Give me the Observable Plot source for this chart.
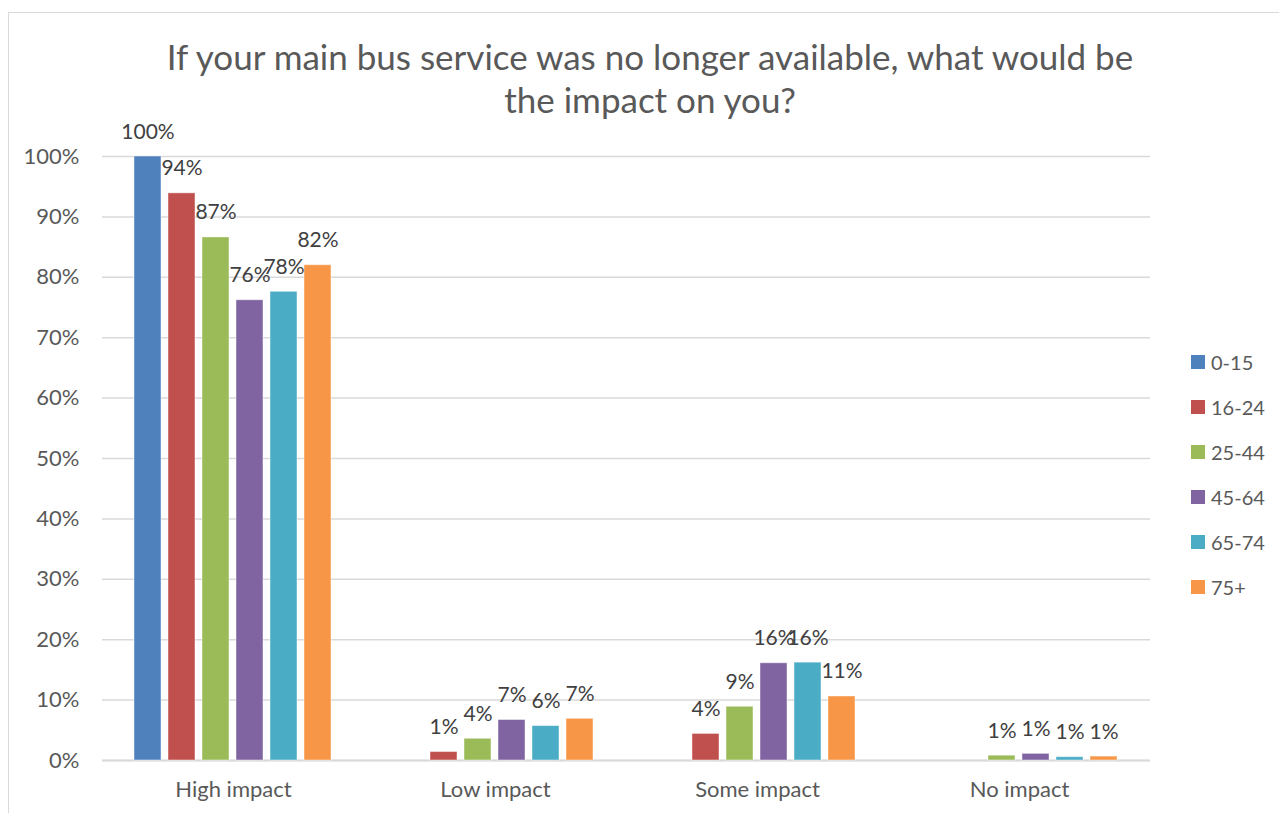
<!DOCTYPE html>
<html>
<head>
<meta charset="utf-8">
<script src="https://cdn.jsdelivr.net/npm/d3@7"></script>
<script src="https://cdn.jsdelivr.net/npm/@observablehq/plot@0.6"></script>
<style>
  html, body { margin: 0; padding: 0; background: #fff; }
  body { width: 1279px; height: 813px; position: relative; overflow: hidden; font-family: Lato, "Open Sans", sans-serif; }
  #frame { position: absolute; left: 8px; top: 12px; width: 1400px; height: 900px; border-left: 1.5px solid #d9d9d9; border-top: 1.5px solid #d9d9d9; box-sizing: border-box; }
  #title { position: absolute; left: 0; width: 1300px; top: 35px; text-align: center; font-size: 35px; line-height: 43px; color: #595959; }
  #chart { position: absolute; left: 0; top: 105px; }
  #legend { position: absolute; left: 1191px; top: 339.5px; }
  .item { height: 45px; display: flex; align-items: center; font-size: 20px; color: #595959; }
  .sw { width: 14px; height: 14px; margin-right: 6px; }
</style>
</head>
<body>
<div id="frame"></div>
<div id="title">If your main bus service was no longer available, what would be<br>the impact on you?</div>
<div id="chart"></div>
<div id="legend"></div>
<script>
const impacts = ["High impact", "Low impact", "Some impact", "No impact"];
const ages = ["0-15", "16-24", "25-44", "45-64", "65-74", "75+"];
const colors = ["#4F81BD", "#C0504D", "#9BBB59", "#8064A2", "#4BACC6", "#F79646"];
// values in percent, per age group, for each impact category
const highImpact = [100, 93.9, 86.6, 76.2, 77.6, 82.0];
const lowImpact  = [null, 1.4, 3.6, 6.7, 5.7, 6.9];
const someImpact = [null, 4.4, 8.9, 16.1, 16.2, 10.6];
const noImpact   = [null, null, 0.8, 1.1, 0.55, 0.65];
const yTicks = [0, 10, 20, 30, 40, 50, 60, 70, 80, 90, 100];

const series = [highImpact, lowImpact, someImpact, noImpact];
const data = [];
impacts.forEach((imp, i) => {
  ages.forEach((age, j) => {
    const v = series[i][j];
    if (v != null) data.push({impact: imp, age, value: v});
  });
});

const chart = Plot.plot({
  width: 1160,
  height: 708,
  marginLeft: 101,
  marginRight: 10,
  marginTop: 51,
  marginBottom: 53,
  style: {fontFamily: "Lato, 'Open Sans', sans-serif", fontSize: "22px", color: "#595959", background: "transparent", overflow: "visible"},
  fx: {domain: impacts, padding: 0, label: null, axis: "bottom", tickSize: 0, tickPadding: 21},
  x: {domain: ages, axis: null, paddingInner: 0.2, paddingOuter: 0.843},
  y: {domain: [0, 100], ticks: yTicks, tickFormat: d => d + "%", tickSize: 0, tickPadding: 23, label: null},
  color: {domain: ages, range: colors},
  marks: [
    Plot.gridY(yTicks, {stroke: "#d9d9d9", strokeOpacity: 1, strokeWidth: 1.5}),
    Plot.ruleY([0], {stroke: "#d9d9d9", strokeWidth: 2}),
    Plot.barY(data, {fx: "impact", x: "age", y: "value", fill: "age", stroke: "#ffffff", strokeOpacity: 0.45, strokeWidth: 1}),
    Plot.text(data, {fx: "impact", x: "age", y: "value", text: d => Math.round(d.value) + "%", lineAnchor: "bottom", dy: -18, fill: "#404040", fontSize: 21})
  ]
});
document.getElementById("chart").appendChild(chart);

const legend = document.getElementById("legend");
ages.forEach((a, i) => {
  const it = document.createElement("div");
  it.className = "item";
  it.innerHTML = `<div class="sw" style="background:${colors[i]}"></div><span>${a}</span>`;
  legend.appendChild(it);
});
</script>
</body>
</html>
